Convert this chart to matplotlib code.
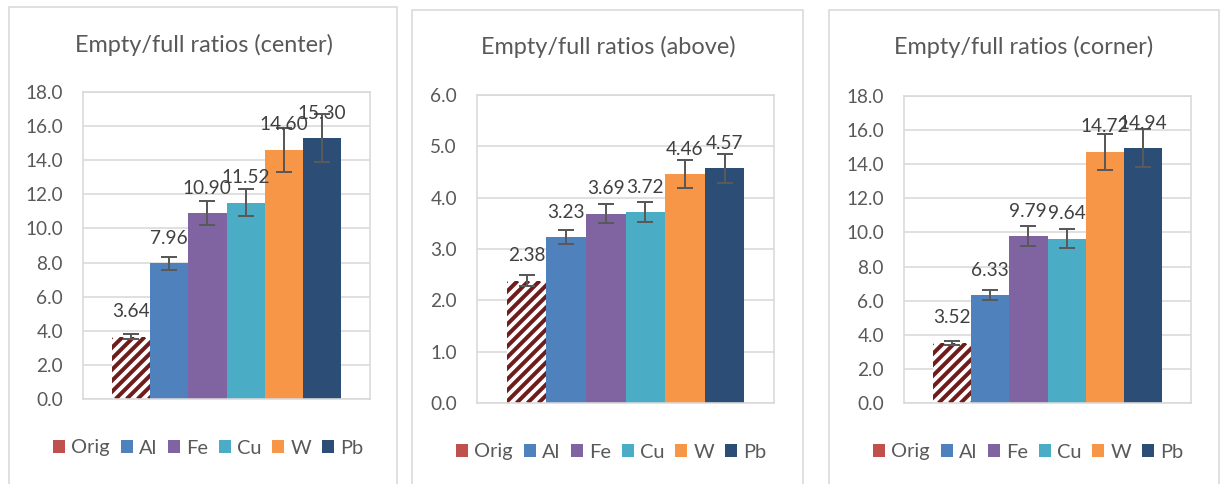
import numpy as np
import matplotlib
matplotlib.use("Agg")
import matplotlib.pyplot as plt
from matplotlib.patches import Rectangle, Patch
from matplotlib.collections import LineCollection
from matplotlib.transforms import IdentityTransform

# ---- data -------------------------------------------------------------
materials = ["Orig", "Al", "Fe", "Cu", "W", "Pb"]

center_vals = [3.64, 7.96, 10.90, 11.52, 14.60, 15.30]
center_errs = [0.15, 0.37, 0.68, 0.78, 1.30, 1.40]

above_vals = [2.38, 3.23, 3.69, 3.72, 4.46, 4.57]
above_errs = [0.11, 0.14, 0.19, 0.20, 0.27, 0.28]

corner_vals = [3.52, 6.33, 9.79, 9.64, 14.72, 14.94]
corner_errs = [0.12, 0.28, 0.56, 0.54, 1.08, 1.10]

titles = ["Empty/full ratios (center)", "Empty/full ratios (above)",
          "Empty/full ratios (corner)"]
y_maxes = [18.0, 6.0, 18.0]
y_steps = [2.0, 1.0, 2.0]

# ---- styling ----------------------------------------------------------
bar_colors = ["#FFFFFF", "#4F81BD", "#8064A2", "#4BACC6", "#F79646", "#2C4D75"]
legend_colors = ["#C0504D", "#4F81BD", "#8064A2", "#4BACC6", "#F79646", "#2C4D75"]
stripe_color = "#6E1D1C"
grid_color = "#D9D9D9"
text_color = "#595959"
label_color = "#404040"
err_color = "#595959"

W, H, DPI = 1220, 484, 100


def pt(px):
    """pixels -> points at the figure dpi"""
    return px * 72.0 / DPI


TICK_FS = pt(19)
LEGEND_FS = pt(20)
TITLE_FS = pt(23.5)

plt.rcParams["font.family"] = ["Lato", "DejaVu Sans"]

fig = plt.figure(figsize=(W / DPI, H / DPI), dpi=DPI)
fig.patch.set_facecolor("white")

# panel frames (x0, x1, top) and plot areas (left, right, top, bottom), in px
frames = [(9, 397, 7), (412, 803, 10), (829, 1219, 10)]
plot_areas = [(83, 370, 92, 399), (477, 774, 95, 403), (904, 1191, 96, 403)]
title_pos = [(204, 45), (608, 47), (1024, 47)]
legend_pos = [(208, 448), (611, 452), (1028, 452)]

series = [(center_vals, center_errs), (above_vals, above_errs),
          (corner_vals, corner_errs)]

x = np.arange(len(materials)) - (len(materials) - 1) / 2.0


def add_stripes(ax, patch, period=11.0, width=4.0):
    """Fill a bar with '/' stripes, clipped to the bar outline."""
    bb = patch.get_window_extent()
    h = bb.height
    starts = np.arange(bb.x0 - h - period, bb.x1 + period, period)
    segs = [[(s, bb.y0), (s + h, bb.y0 + h)] for s in starts]
    lc = LineCollection(segs, colors=stripe_color, linewidths=pt(width),
                        transform=IdentityTransform(), zorder=2.5,
                        capstyle="butt")
    ax.add_collection(lc, autolim=False)
    lc.set_clip_path(patch)


for i in range(3):
    fx0, fx1, ftop = frames[i]
    fig.add_artist(Rectangle((fx0 / W, -0.2), (fx1 - fx0) / W,
                             1.2 - ftop / H, transform=fig.transFigure,
                             facecolor="none", edgecolor=grid_color,
                             linewidth=pt(1.6)))

    l, r, t, b = plot_areas[i]
    ax = fig.add_axes([l / W, 1 - b / H, (r - l) / W, (b - t) / H])
    vals, errs = series[i]

    ax.set_xlim(-3.75, 3.75)
    ax.set_ylim(0, y_maxes[i])

    bars = ax.bar(x, vals, width=1.0, color=bar_colors, linewidth=0,
                  zorder=2)
    add_stripes(ax, bars[0])

    ax.errorbar(x, vals, yerr=errs, fmt="none", ecolor=err_color,
                elinewidth=pt(2), capsize=pt(8), capthick=pt(2), zorder=3)

    for xi, v in zip(x, vals):
        ax.annotate(f"{v:.2f}", (xi, v), xytext=(0, pt(25)),
                    textcoords="offset points", ha="center", va="center",
                    fontsize=TICK_FS, color=label_color, zorder=4)

    ticks = np.arange(0, y_maxes[i] + 1e-9, y_steps[i])
    ax.set_yticks(ticks)
    ax.set_yticklabels([f"{v:.1f}" for v in ticks])
    ax.set_xticks([])
    ax.tick_params(axis="y", length=0, pad=pt(20), labelsize=TICK_FS,
                   labelcolor=text_color)
    ax.grid(axis="y", color=grid_color, linewidth=pt(1.6), zorder=0)
    ax.set_axisbelow(True)
    for s in ax.spines.values():
        s.set_color(grid_color)
        s.set_linewidth(pt(1.6))

    tx, ty = title_pos[i]
    fig.text(tx / W, 1 - ty / H, titles[i], ha="center", va="center",
             fontsize=TITLE_FS, color=text_color)

    handles = [Patch(facecolor=c, edgecolor="none") for c in legend_colors]
    lx, ly = legend_pos[i]
    ax.legend(handles, materials, loc="center",
              bbox_to_anchor=(lx / W, 1 - ly / H),
              bbox_transform=fig.transFigure, ncol=6, frameon=False,
              fontsize=LEGEND_FS, labelcolor=text_color, handlelength=0.6,
              handleheight=0.6, handletextpad=0.3, columnspacing=0.55,
              borderpad=0, borderaxespad=0)

fig.savefig("out.png", dpi=DPI, facecolor="white")
